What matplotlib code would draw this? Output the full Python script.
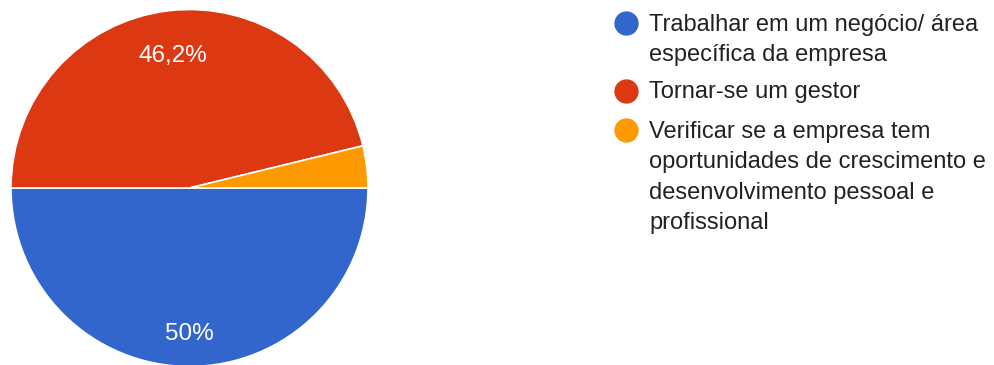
import matplotlib
matplotlib.use("Agg")
from matplotlib import pyplot as plt
from matplotlib.lines import Line2D

plt.rcParams['font.family'] = ['Liberation Sans', 'DejaVu Sans']

labels = [
    "Trabalhar em um negócio/ área\nespecífica da empresa",
    "Tornar-se um gestor",
    "Verificar se a empresa tem\noportunidades de crescimento e\ndesenvolvimento pessoal e\nprofissional",
]
shares = [50.0, 46.2, 3.8]
colors = ['#3366cc', '#dc3912', '#ff9900']

W, H = 995, 365
fig = plt.figure(figsize=(W / 100, H / 100), dpi=100)

# pie axes placed in pixel units (centre 189.5, 188 from top; radius 178.5)
cx, cy, r = 189.5, 188, 178.5
ax = fig.add_axes([(cx - r) / W, (H - cy - r) / H, 2 * r / W, 2 * r / H])


def fmt(p):
    if p < 5:
        return ''
    s = f"{p:.1f}".replace('.', ',')
    if s.endswith(',0'):
        s = s[:-2]
    return s + '%'


wedges, texts, autotexts = ax.pie(
    shares, colors=colors, startangle=0, counterclock=False, radius=1,
    autopct=fmt, pctdistance=0.78,
    wedgeprops=dict(edgecolor='white', linewidth=1.2),
    textprops=dict(color='white', fontsize=17.5))
# nudge the percentage labels down a little
for t in autotexts:
    x, y = t.get_position()
    t.set_position((x, y - 6.5 / r))
ax.set_xlim(-1, 1)
ax.set_ylim(-1, 1)
ax.set_aspect('equal')
ax.axis('off')

# legend drawn line by line
text_x = 649
dot_x = 626.5
dot_y = [23, 90.7, 130.5]
line_h = 30.5
for lab, col, yc in zip(labels, colors, dot_y):
    fig.add_artist(Line2D([dot_x / W], [1 - yc / H], marker='o', markersize=16.5,
                          color=col, linestyle='none', transform=fig.transFigure))
    base = yc + 7.5
    for i, line in enumerate(lab.split('\n')):
        fig.text(text_x / W, 1 - (base + i * line_h) / H, line, fontsize=17,
                 color='#222222', va='baseline', ha='left')

fig.savefig("out.png", dpi=100)
